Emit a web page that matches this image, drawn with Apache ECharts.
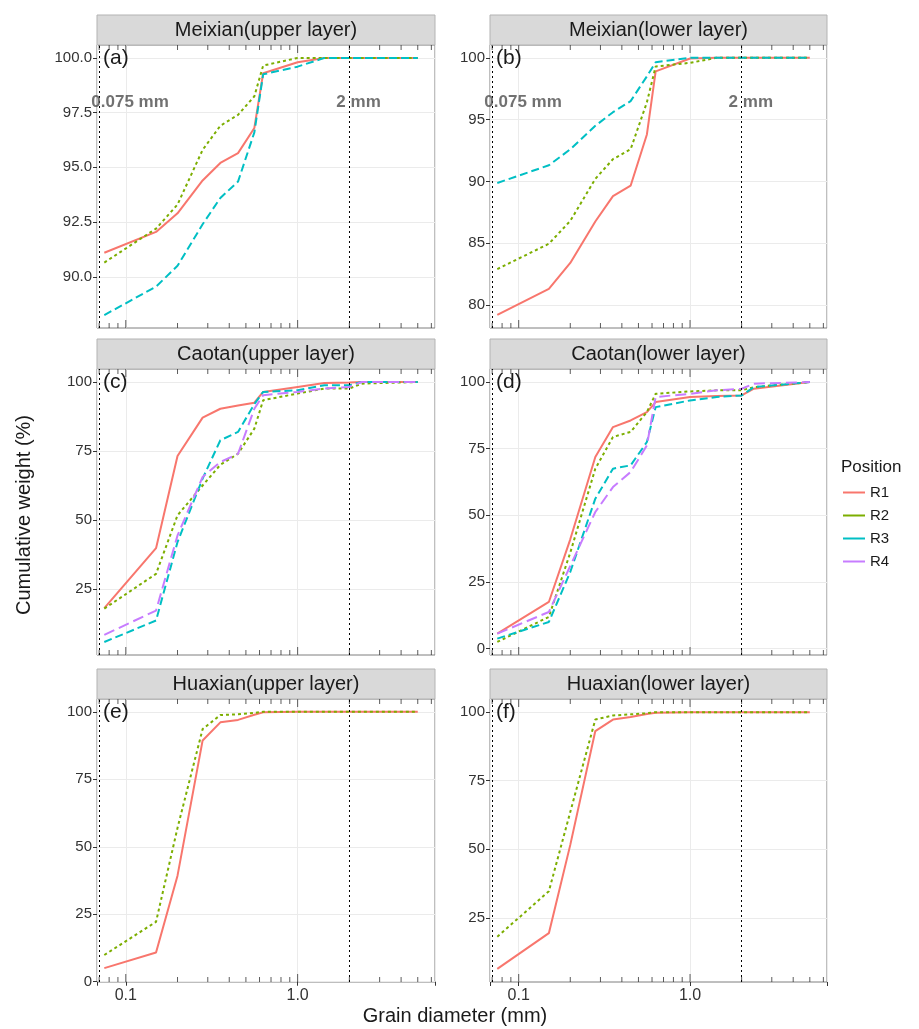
<!DOCTYPE html>
<html>
<head>
<meta charset="utf-8">
<script src="https://cdn.jsdelivr.net/npm/echarts@6/dist/echarts.min.js"></script>
<style>html,body{margin:0;padding:0;background:#fff}#main{width:919px;height:1029px}</style>
</head>
<body>
<div id="main"></div>
<script>
// sieve sizes (mm)
var sizes = [0.075, 0.15, 0.2, 0.28, 0.355, 0.45, 0.56, 0.63, 1.0, 1.43, 2, 2.36, 5];

var aR1 = [91.1, 92.05, 92.9, 94.4, 95.2, 95.65, 96.8, 99.3, 99.8, 100, 100, 100, 100];
var aR2 = [90.65, 92.2, 93.3, 95.8, 96.9, 97.4, 98.25, 99.65, 100, 100, 100, 100, 100];
var aR3 = [88.25, 89.55, 90.5, 92.4, 93.6, 94.35, 96.6, 99.25, 99.6, 100, 100, 100, 100];

var bR1 = [79.2, 81.3, 83.4, 86.75, 88.8, 89.65, 93.8, 98.9, 99.95, 100, 100, 100, 100];
var bR2 = [82.9, 84.95, 86.8, 90.2, 91.8, 92.6, 96.4, 99.3, 99.6, 100, 100, 100, 100];
var bR3 = [89.87, 91.3, 92.6, 94.5, 95.6, 96.5, 98.5, 99.65, 100, 100, 100, 100, 100];

var cR1 = [18.1, 39.8, 73.2, 87.1, 90.3, 91.5, 92.5, 96.4, 98.2, 99.6, 99.8, 100, 100];
var cR2 = [17.9, 30.5, 51.7, 62.5, 70, 74, 83.1, 93.4, 95.8, 97.6, 97.6, 99.4, 100];
var cR3 = [5.8, 13.6, 42, 65, 78.9, 81.9, 92, 96.4, 97, 98.8, 98.8, 100, 100];
var cR4 = [8.4, 17.2, 44.4, 65.6, 71, 74, 90.3, 95.2, 96.4, 97.6, 98.2, 100, 100];

var dR1 = [5.6, 17.5, 41, 71.9, 83.1, 85.6, 88.75, 92.5, 94.4, 94.75, 95, 97.5, 100];
var dR2 = [2.5, 11.9, 36, 67.5, 79.4, 81.3, 88.75, 95.6, 96.5, 96.9, 96.9, 98.1, 100];
var dR3 = [3.75, 10, 28.75, 56.25, 67.5, 68.75, 77.5, 90.6, 93.1, 94.4, 95, 98.1, 100];
var dR4 = [5.6, 13.75, 31, 51.25, 60.6, 66.25, 76.25, 94.4, 95.6, 96.9, 97.5, 99.4, 100];

var eR1 = [5.05, 10.8, 39.3, 89.4, 96.1, 97, 98.9, 99.8, 100, 100, 100, 100, 100];
var eR2 = [9.9, 22.2, 57, 93.6, 98.8, 99.1, 99.6, 100, 100, 100, 100, 100, 100];

var fR1 = [6.4, 19.4, 51.6, 93.1, 97.3, 98.2, 99.3, 99.8, 100, 100, 100, 100, 100];
var fR2 = [18.1, 34.7, 63.6, 97.3, 98.8, 99.2, 99.6, 100, 100, 100, 100, 100, 100];

var titles = ['Meixian(upper layer)', 'Meixian(lower layer)', 'Caotan(upper layer)',
              'Caotan(lower layer)', 'Huaxian(upper layer)', 'Huaxian(lower layer)'];
var letters = ['(a)', '(b)', '(c)', '(d)', '(e)', '(f)'];
var yTicks = [[90, 92.5, 95, 97.5, 100], [80, 85, 90, 95, 100], [25, 50, 75, 100],
              [0, 25, 50, 75, 100], [0, 25, 50, 75, 100], [25, 50, 75, 100]];
var yRange = [[87.66, 100.59], [78.13, 101.04], [1.1, 104.7], [-2.4, 104.9], [-0.1, 104.75], [1.6, 104.8]];
var panelData = [
  {R1: aR1, R2: aR2, R3: aR3}, {R1: bR1, R2: bR2, R3: bR3},
  {R1: cR1, R2: cR2, R3: cR3, R4: cR4}, {R1: dR1, R2: dR2, R3: dR3, R4: dR4},
  {R1: eR1, R2: eR2}, {R1: fR1, R2: fR2}
];
var logTicks = [0.07, 0.08, 0.09, 0.1, 0.2, 0.3, 0.4, 0.5, 0.6, 0.7, 0.8, 0.9, 1, 2, 3, 4, 5, 6];
var markSizes = [0.075, 2];
var markText = ['0.075 mm', '2 mm'];
var markY = [97.95, 96.4];

var colors = {R1: '#F8766D', R2: '#7CAE00', R3: '#00BFC4', R4: '#C77CFF'};
var dashes = {R1: 'solid', R2: [3, 3], R3: [8, 4], R4: [11, 5]};

var cols = [{left: 97, width: 338}, {left: 490, width: 337}];
var rows = [{top: 45, height: 283}, {top: 369, height: 286}, {top: 699, height: 283}];

var myChart = echarts.init(document.getElementById('main'));
var grids = [], xAxes = [], yAxes = [], series = [], graphics = [], titleList = [];

for (var i = 0; i < 6; i++) {
  var c = cols[i % 2], r = rows[Math.floor(i / 2)];
  grids.push({left: c.left, top: r.top, width: c.width, height: r.height,
    show: true, borderColor: '#7f7f7f', borderWidth: 1, backgroundColor: '#fff'});
  var bottomRow = i >= 4;
  xAxes.push({
    type: 'log', gridIndex: i, min: 0.068, max: 6.3, logBase: 10,
    axisLine: {show: false}, axisTick: {show: bottomRow, length: 4, lineStyle: {color: '#333'}},
    splitLine: {show: true, lineStyle: {color: '#ebebeb'}},
    axisLabel: {show: bottomRow, fontSize: 16, color: '#333', margin: 6,
      formatter: function (v) {
        var l = Math.log10(v);
        if (Math.abs(l + 1) < 1e-6) return '0.1';
        if (Math.abs(l) < 1e-6) return '1.0';
        return '';
      }}
  });
  (function (ticks, isA) {
    yAxes.push({
      type: 'value', gridIndex: i, min: yRange[i][0], max: yRange[i][1],
      axisLine: {show: false},
      axisTick: {show: true, length: 4, lineStyle: {color: '#333'}, customValues: ticks},
      splitLine: {show: true, lineStyle: {color: '#ebebeb'}},
      axisLabel: {fontSize: 15, color: '#333', customValues: ticks, margin: 5,
        formatter: function (v) { return isA ? v.toFixed(1) : String(v); }}
    });
  })(yTicks[i], i === 0);

  var first = true;
  for (var name in panelData[i]) {
    var vals = panelData[i][name];
    var s = {
      name: name, type: 'line', xAxisIndex: i, yAxisIndex: i,
      data: sizes.map(function (x, k) { return [x, vals[k]]; }),
      showSymbol: false, symbol: 'none', z: 3,
      lineStyle: {color: colors[name], width: 2, type: dashes[name]},
      itemStyle: {color: colors[name]}
    };
    if (first) {
      s.markLine = {silent: true, symbol: 'none', label: {show: false},
        lineStyle: {type: [2, 3], color: '#000', width: 1},
        data: markSizes.map(function (m) { return {xAxis: m}; })};
      first = false;
    }
    series.push(s);
  }
  // log ticks at bottom and top of panel
  [0, 1].forEach(function (side) {
    series.push({
      type: 'scatter', xAxisIndex: i, yAxisIndex: i, silent: true, z: 4,
      data: logTicks.map(function (t) {
        var big = Math.abs(Math.log10(t) - Math.round(Math.log10(t))) < 1e-6;
        var h = big ? 8 : 5;
        return {value: [t, yRange[i][side]], symbolSize: [1, h], symbolOffset: [0, side ? h / 2 : -h / 2]};
      }),
      symbol: 'rect', itemStyle: {color: '#333'}
    });
  });
  if (i < 2) {
    series.push({
      type: 'scatter', xAxisIndex: i, yAxisIndex: i, silent: true, symbolSize: 0, z: 5,
      data: markSizes.map(function (m, k) {
        return {value: [m, markY[i]], label: {formatter: markText[k], offset: [k ? -18 : -18, 0]}};
      }),
      label: {show: true, position: 'right', fontSize: 17, fontWeight: 'bold', color: '#4d4d4d'}
    });
  }
  graphics.push({type: 'rect', shape: {x: c.left, y: r.top - 30, width: c.width, height: 30},
    style: {fill: '#d9d9d9', stroke: '#b3b3b3', lineWidth: 1}});
  graphics.push({type: 'text', x: c.left + c.width / 2, y: r.top - 15,
    style: {text: titles[i], fontSize: 20, fill: '#1a1a1a', align: 'center', verticalAlign: 'middle'}});
  titleList.push({text: letters[i], left: c.left + 1, top: r.top - 2,
    textStyle: {fontSize: 21, fontWeight: 'normal', color: '#1a1a1a'}});
}

titleList.push({text: 'Position', left: 836, top: 454, textStyle: {fontSize: 17, fontWeight: 'normal', color: '#1a1a1a'}});
graphics.push({type: 'text', x: 455, y: 1016,
  style: {text: 'Grain diameter (mm)', fontSize: 20, fill: '#1a1a1a', align: 'center', verticalAlign: 'middle'}});
graphics.push({type: 'text', x: 24, y: 515, rotation: Math.PI / 2,
  style: {text: 'Cumulative weight (%)', fontSize: 20, fill: '#1a1a1a', align: 'center', verticalAlign: 'middle'}});

var option = {
  backgroundColor: '#fff',
  animation: false,
  textStyle: {fontFamily: 'Liberation Sans, Arial, sans-serif'},
  title: titleList,
  legend: {data: ['R1', 'R2', 'R3', 'R4'], orient: 'vertical', left: 838, top: 480,
    itemWidth: 22, itemHeight: 14, itemGap: 8, icon: 'path://M0,6 L22,6 L22,8 L0,8 Z',
    textStyle: {fontSize: 15, color: '#1a1a1a'}},
  grid: grids, xAxis: xAxes, yAxis: yAxes, series: series, graphic: graphics
};
myChart.setOption(option);
</script>
</body>
</html>
